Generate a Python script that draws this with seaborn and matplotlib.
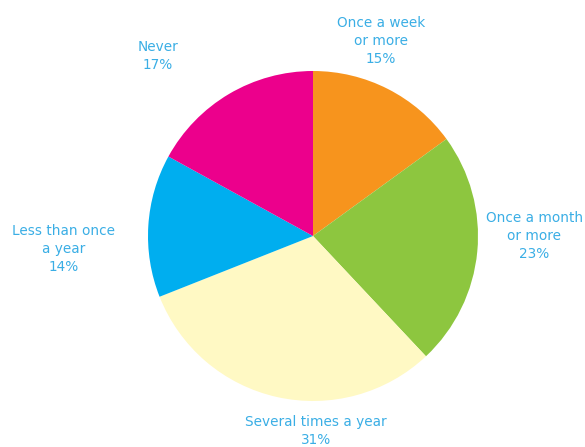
import matplotlib
matplotlib.use("Agg")
import matplotlib.pyplot as plt
import seaborn as sns

categories = ["Once a week\nor more", "Once a month\nor more", "Several times a year",
              "Less than once\na year", "Never"]
shares = [15, 23, 31, 14, 17]
colors = ["#F7941D", "#8DC63F", "#FFF9C4", "#00AEEF", "#EC008C"]

# label anchor points (data units, pie radius = 1)
label_xy = [(0.41, 1.18), (1.34, 0.0), (0.02, -1.18), (-1.51, -0.08), (-0.94, 1.09)]

sns.set_theme(style="white")
plt.rcParams["font.family"] = ["DejaVu Sans"]

fig = plt.figure(figsize=(5.85, 4.47), dpi=100)
ax = fig.add_axes([0, 0, 1, 1])
ax.pie(shares, colors=colors, startangle=90, counterclock=False,
       radius=1.0, center=(0, 0), wedgeprops=dict(edgecolor="none", linewidth=0))
ax.set_xlim(-313 / 165, (585 - 313) / 165)
ax.set_ylim(-(447 - 236) / 165, 236 / 165)
ax.set_aspect("auto")
ax.axis("off")

for cat, val, (x, y) in zip(categories, shares, label_xy):
    ax.text(x, y, f"{cat}\n{val}%", ha="center", va="center", color="#3AAEE5",
            fontsize=9.8, linespacing=1.38)

fig.savefig("out.png", dpi=100, facecolor="white")
